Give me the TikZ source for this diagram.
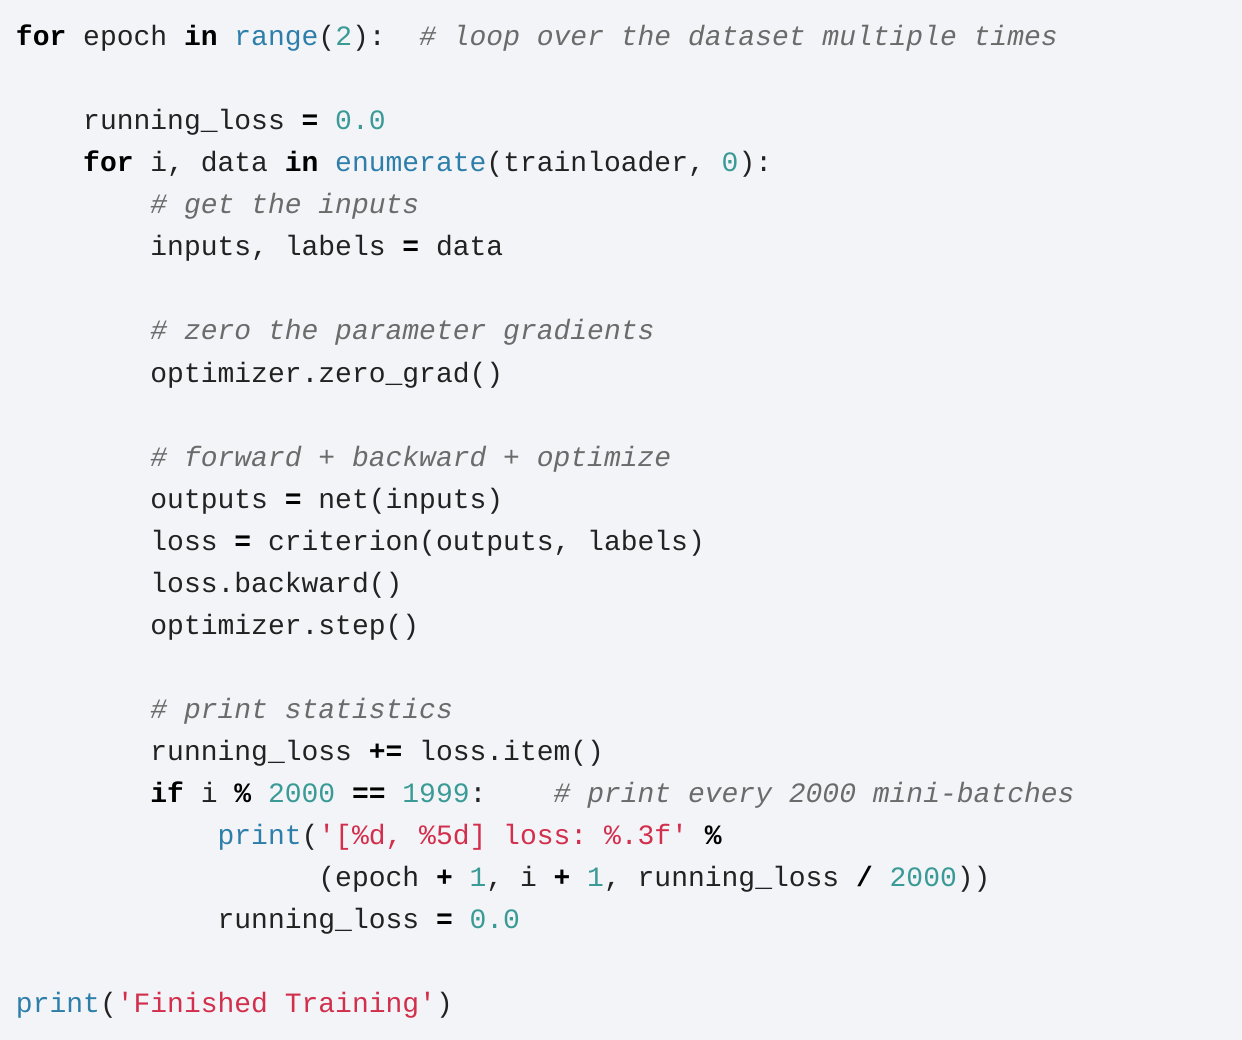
\documentclass[tikz,border=0pt]{standalone}
\usepackage{fontspec}
\setmonofont{Liberation Mono}
\definecolor{bgc}{HTML}{F3F4F8}
\definecolor{txt}{HTML}{222222}
\definecolor{bic}{HTML}{2D7FAA}
\definecolor{nmc}{HTML}{3A9A96}
\definecolor{stc}{HTML}{D22F4D}
\definecolor{cmc}{HTML}{6B6B6B}
\newcommand\kwd[1]{{\bfseries\color{black}#1}}
\newcommand\bif[1]{{\color{bic}#1}}
\newcommand\nmb[1]{{\color{nmc}#1}}
\newcommand\strg[1]{{\color{stc}#1}}
\newcommand\cmt[1]{{\color{cmc}\itshape #1}}
\begin{document}
\begin{tikzpicture}[x=1pt,y=-1pt,
  codeline/.style={anchor=base west,inner sep=0pt,outer sep=0pt,text=txt,
    font=\ttfamily\fontsize{28}{42}\selectfont}]
\fill[bgc] (0,0) rectangle (1242,1040);
\useasboundingbox (0,0) rectangle (1242,1040);
\def\cw{16.8}
\node[codeline] (l1) at (16,46) {\kwd{for} epoch \kwd{in} \bif{range}(\nmb{2}):\phantom{xx}\cmt{\# loop over the dataset multiple times}};
\node[codeline] (l3) at (16+4*\cw,130) {running\_loss \kwd{=} \nmb{0.0}};
\node[codeline] (l4) at (16+4*\cw,172) {\kwd{for} i, data \kwd{in} \bif{enumerate}(trainloader, \nmb{0}):};
\node[codeline] (l5) at (16+8*\cw,214) {\cmt{\# get the inputs}};
\node[codeline] (l6) at (16+8*\cw,256) {inputs, labels \kwd{=} data};
\node[codeline] (l8) at (16+8*\cw,340) {\cmt{\# zero the parameter gradients}};
\node[codeline] (l9) at (16+8*\cw,382) {optimizer.zero\_grad()};
\node[codeline] (l11) at (16+8*\cw,466) {\cmt{\# forward + backward + optimize}};
\node[codeline] (l12) at (16+8*\cw,508) {outputs \kwd{=} net(inputs)};
\node[codeline] (l13) at (16+8*\cw,550) {loss \kwd{=} criterion(outputs, labels)};
\node[codeline] (l14) at (16+8*\cw,592) {loss.backward()};
\node[codeline] (l15) at (16+8*\cw,634) {optimizer.step()};
\node[codeline] (l17) at (16+8*\cw,718) {\cmt{\# print statistics}};
\node[codeline] (l18) at (16+8*\cw,760) {running\_loss \kwd{+=} loss.item()};
\node[codeline] (l19) at (16+8*\cw,802) {\kwd{if} i \kwd{\%} \nmb{2000} \kwd{==} \nmb{1999}:\phantom{xxxx}\cmt{\# print every 2000 mini-batches}};
\node[codeline] (l20) at (16+12*\cw,844) {\bif{print}(\strg{'[\%d, \%5d] loss: \%.3f'} \kwd{\%}};
\node[codeline] (l21) at (16+18*\cw,886) {(epoch \kwd{+} \nmb{1}, i \kwd{+} \nmb{1}, running\_loss \kwd{/} \nmb{2000}))};
\node[codeline] (l22) at (16+12*\cw,928) {running\_loss \kwd{=} \nmb{0.0}};
\node[codeline] (l24) at (16,1012) {\bif{print}(\strg{'Finished Training'})};
\end{tikzpicture}
\end{document}
